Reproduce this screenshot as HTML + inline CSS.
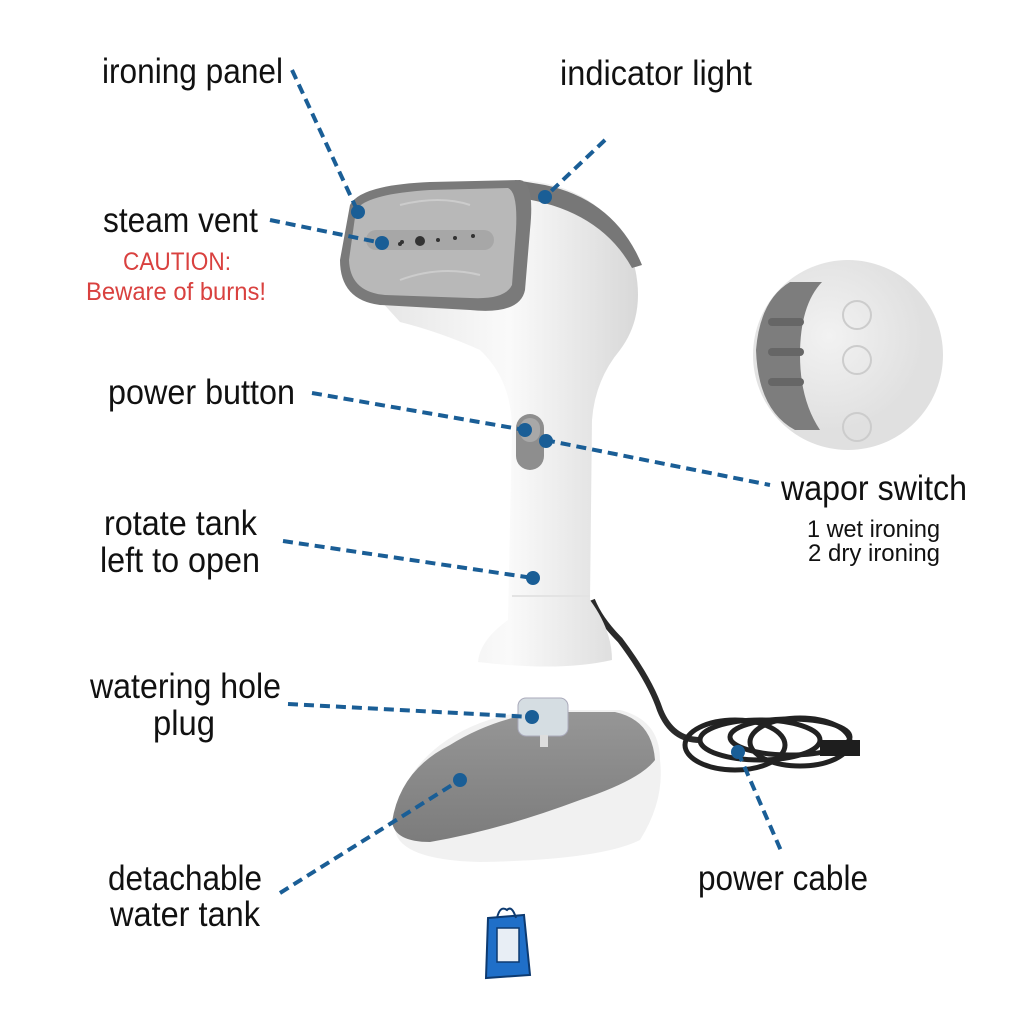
<!DOCTYPE html>
<html><head><style>html,body{margin:0;padding:0;background:#fff}svg{display:block}</style></head>
<body>
<svg width="1024" height="1024" viewBox="0 0 1024 1024" xmlns="http://www.w3.org/2000/svg" font-family="Liberation Sans, sans-serif">
<defs>
<linearGradient id="wh" x1="0" x2="1"><stop offset="0" stop-color="#e6e6e6"/><stop offset="0.5" stop-color="#fafafa"/><stop offset="1" stop-color="#d8d8d8"/></linearGradient>
<linearGradient id="gr" x1="0" y1="0" x2="0" y2="1"><stop offset="0" stop-color="#8c8c8c"/><stop offset="1" stop-color="#6f6f6f"/></linearGradient>
<radialGradient id="ci" cx="0.4" cy="0.4"><stop offset="0" stop-color="#f2f2f2"/><stop offset="1" stop-color="#e0e0e0"/></radialGradient>
</defs>
<rect width="1024" height="1024" fill="#fff"/>
<!-- inset circle -->
<circle cx="848" cy="355" r="95" fill="url(#ci)"/>
<path d="M790 282 Q760 300 756 350 Q758 410 795 430 L820 430 Q800 400 800 355 Q800 305 822 282 Z" fill="#7d7d7d"/>
<rect x="768" y="318" width="36" height="8" rx="4" fill="#666"/>
<rect x="768" y="348" width="36" height="8" rx="4" fill="#666"/>
<rect x="768" y="378" width="36" height="8" rx="4" fill="#666"/>
<circle cx="857" cy="315" r="14" fill="none" stroke="#ccc" stroke-width="2"/>
<circle cx="857" cy="360" r="14" fill="none" stroke="#ccc" stroke-width="2"/>
<circle cx="857" cy="427" r="14" fill="none" stroke="#ccc" stroke-width="2"/>
<!-- cable -->
<path d="M592 600 Q600 620 620 640 Q650 680 660 710 Q672 740 700 740" fill="none" stroke="#2a2a2a" stroke-width="6"/>
<g fill="none" stroke="#222" stroke-width="5">
<ellipse cx="735" cy="745" rx="50" ry="25"/>
<ellipse cx="760" cy="740" rx="60" ry="20"/>
<ellipse cx="790" cy="737" rx="60" ry="18"/>
<ellipse cx="800" cy="742" rx="50" ry="24"/>
</g>
<rect x="820" y="740" width="40" height="16" fill="#1e1e1e"/>
<!-- base tank -->
<path d="M395 830 Q395 780 440 745 Q480 715 540 710 L620 710 Q660 720 660 760 Q665 800 640 840 Q600 860 480 862 Q400 860 395 830 Z" fill="#f1f1f1"/>
<path d="M392 822 Q400 770 450 745 Q490 720 540 712 L615 712 Q652 720 655 760 Q640 780 580 800 Q500 830 430 842 Q395 842 392 822 Z" fill="url(#gr)" opacity="0.9"/>
<rect x="518" y="698" width="50" height="38" rx="8" fill="#d5dde2" stroke="#aab" />
<rect x="540" y="735" width="8" height="12" fill="#ddd"/>
<!-- body -->
<path d="M520 180 Q600 185 630 250 Q650 310 620 350 Q595 380 592 420 L590 600 Q612 630 612 660 Q560 672 478 662 Q480 640 508 620 L512 430 Q512 380 480 350 Q440 332 400 322 L380 300 Z" fill="url(#wh)"/>
<path d="M515 180 L545 185 Q615 200 642 265 L632 268 Q600 210 520 198 Z" fill="#777"/>
<!-- head -->
<path d="M350 205 Q360 185 430 182 L520 180 Q535 182 530 230 L525 290 Q520 315 470 310 L380 305 Q340 300 340 260 Z" fill="#7a7a7a"/>
<path d="M356 210 Q366 194 430 190 L508 188 Q518 192 516 230 L512 285 Q505 300 470 298 L385 295 Q350 292 349 260 Z" fill="#b8b8b8"/>
<rect x="366" y="230" width="128" height="20" rx="10" fill="#a7a7a7"/>
<g fill="#333"><circle cx="400" cy="244" r="2"/><circle cx="402" cy="242" r="2"/><circle cx="438" cy="240" r="2"/><circle cx="455" cy="238" r="2"/><circle cx="473" cy="236" r="2"/><circle cx="420" cy="241" r="5"/></g>
<path d="M400 205 Q440 195 470 205 M400 280 Q440 265 480 275" stroke="#ccc" stroke-width="2" fill="none"/>
<!-- switch -->
<rect x="516" y="414" width="28" height="56" rx="14" fill="#8e8e8e"/>
<rect x="520" y="418" width="20" height="24" rx="10" fill="#a8a8a8"/>
<line x1="512" y1="596" x2="590" y2="596" stroke="#e3e3e3" stroke-width="2"/>
<!-- bag icon -->
<path d="M488 918 L524 915 L530 975 L486 978 Z" fill="#1f6fc8" stroke="#0d3a70" stroke-width="2"/>
<rect x="497" y="928" width="22" height="34" fill="#e8eef5" stroke="#0d3a70" stroke-width="1.5"/>
<path d="M497 918 Q500 905 507 910 Q512 905 516 918" fill="none" stroke="#0d3a70" stroke-width="2"/>
<!-- connectors -->
<g stroke="#1a5e96" stroke-width="4" stroke-dasharray="10 6" fill="none">
<line x1="292" y1="70" x2="358" y2="212"/>
<line x1="605" y1="140" x2="545" y2="197"/>
<line x1="270" y1="220" x2="382" y2="243"/>
<line x1="312" y1="393" x2="525" y2="430"/>
<line x1="545" y1="440" x2="770" y2="485"/>
<line x1="283" y1="541" x2="533" y2="578"/>
<line x1="288" y1="704" x2="532" y2="717"/>
<line x1="280" y1="893" x2="460" y2="780"/>
<line x1="738" y1="752" x2="782" y2="853"/>
</g>
<g fill="#1a5e96">
<circle cx="358" cy="212" r="7"/><circle cx="545" cy="197" r="7"/><circle cx="382" cy="243" r="7"/>
<circle cx="525" cy="430" r="7"/><circle cx="546" cy="441" r="7"/><circle cx="533" cy="578" r="7"/>
<circle cx="532" cy="717" r="7"/><circle cx="460" cy="780" r="7"/><circle cx="738" cy="752" r="7"/>
</g>
<!-- labels -->
<g fill="#111" font-size="35">
<text x="102" y="83" textLength="181" lengthAdjust="spacingAndGlyphs">ironing panel</text>
<text x="560" y="85" textLength="192" lengthAdjust="spacingAndGlyphs">indicator light</text>
<text x="103" y="232" textLength="155" lengthAdjust="spacingAndGlyphs">steam vent</text>
<text x="108" y="404" textLength="187" lengthAdjust="spacingAndGlyphs">power button</text>
<text x="781" y="500" textLength="186" lengthAdjust="spacingAndGlyphs">wapor switch</text>
<text x="104" y="535" textLength="153" lengthAdjust="spacingAndGlyphs">rotate tank</text>
<text x="100" y="572" textLength="160" lengthAdjust="spacingAndGlyphs">left to open</text>
<text x="90" y="698" textLength="191" lengthAdjust="spacingAndGlyphs">watering hole</text>
<text x="153" y="735" textLength="62" lengthAdjust="spacingAndGlyphs">plug</text>
<text x="108" y="890" textLength="154" lengthAdjust="spacingAndGlyphs">detachable</text>
<text x="110" y="926" textLength="150" lengthAdjust="spacingAndGlyphs">water tank</text>
<text x="698" y="890" textLength="170" lengthAdjust="spacingAndGlyphs">power cable</text>
</g>
<g fill="#d9413f" font-size="25">
<text x="123" y="270" textLength="108" lengthAdjust="spacingAndGlyphs">CAUTION:</text>
<text x="86" y="300" textLength="180" lengthAdjust="spacingAndGlyphs">Beware of burns!</text>
</g>
<g fill="#111" font-size="24">
<text x="807" y="537" textLength="133" lengthAdjust="spacingAndGlyphs">1 wet ironing</text>
<text x="808" y="561" textLength="132" lengthAdjust="spacingAndGlyphs">2 dry ironing</text>
</g>
</svg>
</body></html>
